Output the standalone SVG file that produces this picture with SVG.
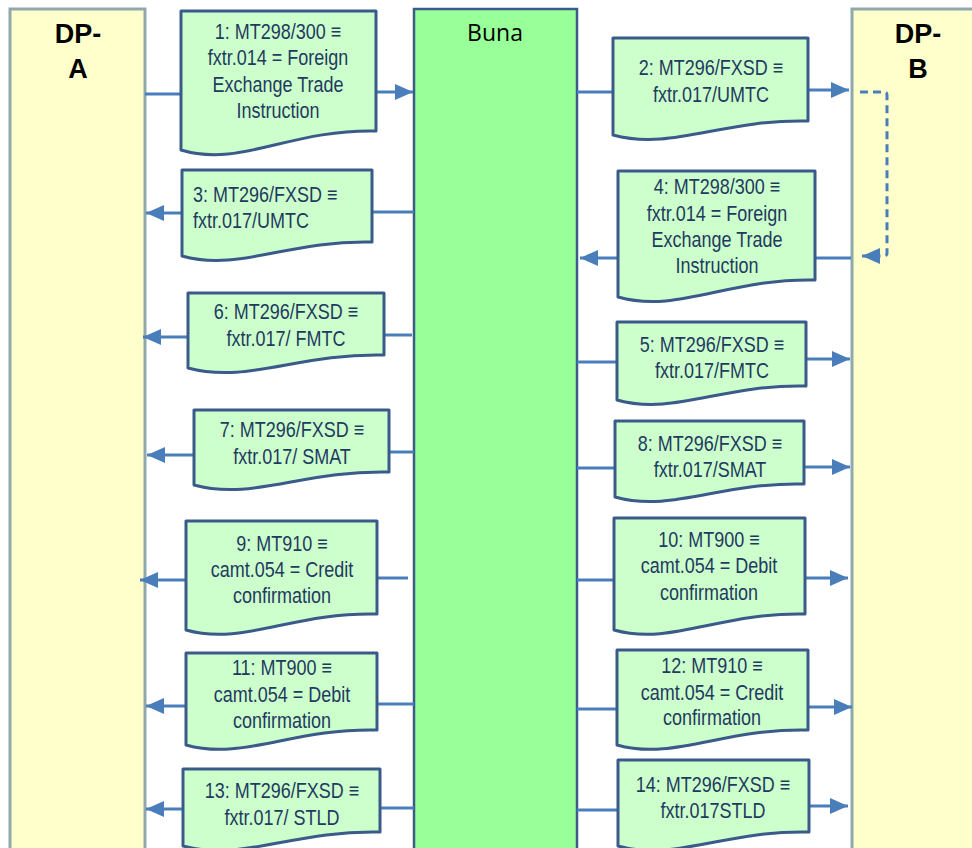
<svg xmlns="http://www.w3.org/2000/svg" width="972" height="848" viewBox="0 0 972 848">
<style>
.dp{fill:#FFFFCC;stroke:#8FA8AA;stroke-width:3}
.buna{fill:#99FF99;stroke:#3B5B8B;stroke-width:2.5}
.doc{fill:#CCFFCC;stroke:#3A5A8A;stroke-width:3;stroke-linejoin:round}
.t{font-family:"Liberation Sans",Arial,sans-serif;font-size:21.5px;fill:#1F3A5F;text-anchor:middle}
.tl{text-anchor:start}
.dpt{font-family:"Liberation Sans",Arial,sans-serif;font-size:27px;font-weight:bold;fill:#000;text-anchor:middle}
.bt{font-family:"Open Sans","Liberation Sans",sans-serif;font-size:23px;fill:#000;text-anchor:middle}
.c{stroke:#4A7EBB;stroke-width:3;fill:none}
.a{marker-end:url(#ah)}
.d{stroke-dasharray:8 5}
</style>
<defs>
<marker id="ah" markerUnits="userSpaceOnUse" viewBox="0 0 18 16" refX="18" refY="8" markerWidth="18" markerHeight="16" orient="auto">
<path d="M0,0 L18,8 L0,16 z" fill="#4A7EBB"/>
</marker>
</defs>
<rect width="972" height="848" fill="#FFFFFF"/>

<g id="dpA"><rect class="dp" x="10" y="9" width="135" height="850"/><text class="dpt" x="78" y="43">DP-</text><text class="dpt" x="78" y="78">A</text></g>
<g id="buna"><rect class="buna" x="414" y="9" width="163" height="850"/><text class="bt" x="495" y="41">Buna</text></g>
<g id="dpB"><rect class="dp" x="852" y="9" width="130" height="850"/><text class="dpt" x="918" y="43">DP-</text><text class="dpt" x="918" y="78">B</text></g>

<g id="connectors">
<line class="c" x1="145" y1="94" x2="181" y2="94"/><line class="c a" x1="376" y1="92" x2="413" y2="92"/>
<line class="c" x1="577" y1="92" x2="613" y2="92"/><line class="c a" x1="808" y1="90" x2="849" y2="90"/>
<path class="c d a" d="M860,92 H884 Q887,92 887,95 V253 Q887,256 884,256 H862"/>
<line class="c" x1="414" y1="212" x2="372" y2="212"/><line class="c a" x1="182" y1="213" x2="146" y2="213"/>
<line class="c" x1="851" y1="258" x2="815" y2="258"/><line class="c a" x1="618" y1="258" x2="580" y2="258"/>
<line class="c" x1="577" y1="362" x2="617" y2="362"/><line class="c a" x1="806" y1="359" x2="850" y2="359"/>
<line class="c" x1="412" y1="335" x2="384" y2="335"/><line class="c a" x1="188" y1="337" x2="143" y2="337"/>
<line class="c" x1="414" y1="452" x2="389" y2="452"/><line class="c a" x1="194" y1="455" x2="147" y2="455"/>
<line class="c" x1="577" y1="468" x2="615" y2="468"/><line class="c a" x1="804" y1="467" x2="850" y2="467"/>
<line class="c" x1="408" y1="578" x2="377" y2="578"/><line class="c a" x1="186" y1="580" x2="140" y2="580"/>
<line class="c" x1="577" y1="580" x2="614" y2="580"/><line class="c a" x1="805" y1="578" x2="848" y2="578"/>
<line class="c" x1="414" y1="704" x2="377" y2="704"/><line class="c a" x1="186" y1="706" x2="146" y2="706"/>
<line class="c" x1="577" y1="709" x2="617" y2="709"/><line class="c a" x1="808" y1="707" x2="852" y2="707"/>
<line class="c" x1="414" y1="808" x2="380" y2="808"/><line class="c a" x1="183" y1="809" x2="146" y2="809"/>
<line class="c" x1="577" y1="810" x2="618" y2="810"/><line class="c a" x1="809" y1="806" x2="848" y2="806"/>
</g>

<g id="m1"><path class="doc" d="M181,11 H376 V131 C290,129 240,168 181,150 Z"/>
<g transform="translate(278 0) scale(0.837 1)"><text class="t" x="0" y="39">1: MT298/300 ≡</text><text class="t" x="0" y="65">fxtr.014 = Foreign</text><text class="t" x="0" y="92">Exchange Trade</text><text class="t" x="0" y="118">Instruction</text></g></g>
<g id="m2"><path class="doc" d="M613,38 H808 V121 C722,119 672,151 613,135 Z"/>
<g transform="translate(711 0) scale(0.837 1)"><text class="t" x="0" y="75">2: MT296/FXSD ≡</text><text class="t" x="0" y="102">fxtr.017/UMTC</text></g></g>
<g id="m3"><path class="doc" d="M182,170 H372 V242 C288,240 239,272 182,256 Z"/>
<g transform="translate(193 0) scale(0.837 1)"><text class="t tl" x="0" y="202">3: MT296/FXSD ≡</text><text class="t tl" x="0" y="228">fxtr.017/UMTC</text></g></g>
<g id="m4"><path class="doc" d="M618,171 H815 V280 C728,278 678,314 618,297 Z"/>
<g transform="translate(717 0) scale(0.837 1)"><text class="t" x="0" y="194">4: MT298/300 ≡</text><text class="t" x="0" y="221">fxtr.014 = Foreign</text><text class="t" x="0" y="247">Exchange Trade</text><text class="t" x="0" y="273">Instruction</text></g></g>
<g id="m5"><path class="doc" d="M617,322 H806 V386 C722,384 674,416 617,400 Z"/>
<g transform="translate(712 0) scale(0.837 1)"><text class="t" x="0" y="352">5: MT296/FXSD ≡</text><text class="t" x="0" y="378">fxtr.017/FMTC</text></g></g>
<g id="m6"><path class="doc" d="M188,293 H384 V355 C298,353 248,384 188,368 Z"/>
<g transform="translate(286 0) scale(0.837 1)"><text class="t" x="0" y="319">6: MT296/FXSD ≡</text><text class="t" x="0" y="346">fxtr.017/ FMTC</text></g></g>
<g id="m7"><path class="doc" d="M194,410 H389 V472 C303,470 253,501 194,485 Z"/>
<g transform="translate(292 0) scale(0.837 1)"><text class="t" x="0" y="437">7: MT296/FXSD ≡</text><text class="t" x="0" y="464">fxtr.017/ SMAT</text></g></g>
<g id="m8"><path class="doc" d="M615,421 H804 V484 C720,482 672,513 615,497 Z"/>
<g transform="translate(710 0) scale(0.837 1)"><text class="t" x="0" y="451">8: MT296/FXSD ≡</text><text class="t" x="0" y="477">fxtr.017/SMAT</text></g></g>
<g id="m9"><path class="doc" d="M186,521 H377 V614 C293,612 243,646 186,630 Z"/>
<g transform="translate(282 0) scale(0.837 1)"><text class="t" x="0" y="551">9: MT910 ≡</text><text class="t" x="0" y="577">camt.054 = Credit</text><text class="t" x="0" y="603">confirmation</text></g></g>
<g id="m10"><path class="doc" d="M614,518 H805 V614 C721,612 671,646 614,630 Z"/>
<g transform="translate(709 0) scale(0.837 1)"><text class="t" x="0" y="547">10: MT900 ≡</text><text class="t" x="0" y="573">camt.054 = Debit</text><text class="t" x="0" y="600">confirmation</text></g></g>
<g id="m11"><path class="doc" d="M186,653 H377 V730 C293,728 243,761 186,745 Z"/>
<g transform="translate(282 0) scale(0.837 1)"><text class="t" x="0" y="675">11: MT900 ≡</text><text class="t" x="0" y="702">camt.054 = Debit</text><text class="t" x="0" y="728">confirmation</text></g></g>
<g id="m12"><path class="doc" d="M617,650 H808 V730 C724,728 674,761 617,745 Z"/>
<g transform="translate(712 0) scale(0.837 1)"><text class="t" x="0" y="673">12: MT910 ≡</text><text class="t" x="0" y="700">camt.054 = Credit</text><text class="t" x="0" y="725">confirmation</text></g></g>
<g id="m13"><path class="doc" d="M183,769 H380 V832 C293,830 243,862 183,846 Z"/>
<g transform="translate(282 0) scale(0.837 1)"><text class="t" x="0" y="798">13: MT296/FXSD ≡</text><text class="t" x="0" y="825">fxtr.017/ STLD</text></g></g>
<g id="m14"><path class="doc" d="M618,760 H809 V832 C725,830 675,862 618,846 Z"/>
<g transform="translate(713 0) scale(0.837 1)"><text class="t" x="0" y="792">14: MT296/FXSD ≡</text><text class="t" x="0" y="818">fxtr.017STLD</text></g></g>
</svg>
